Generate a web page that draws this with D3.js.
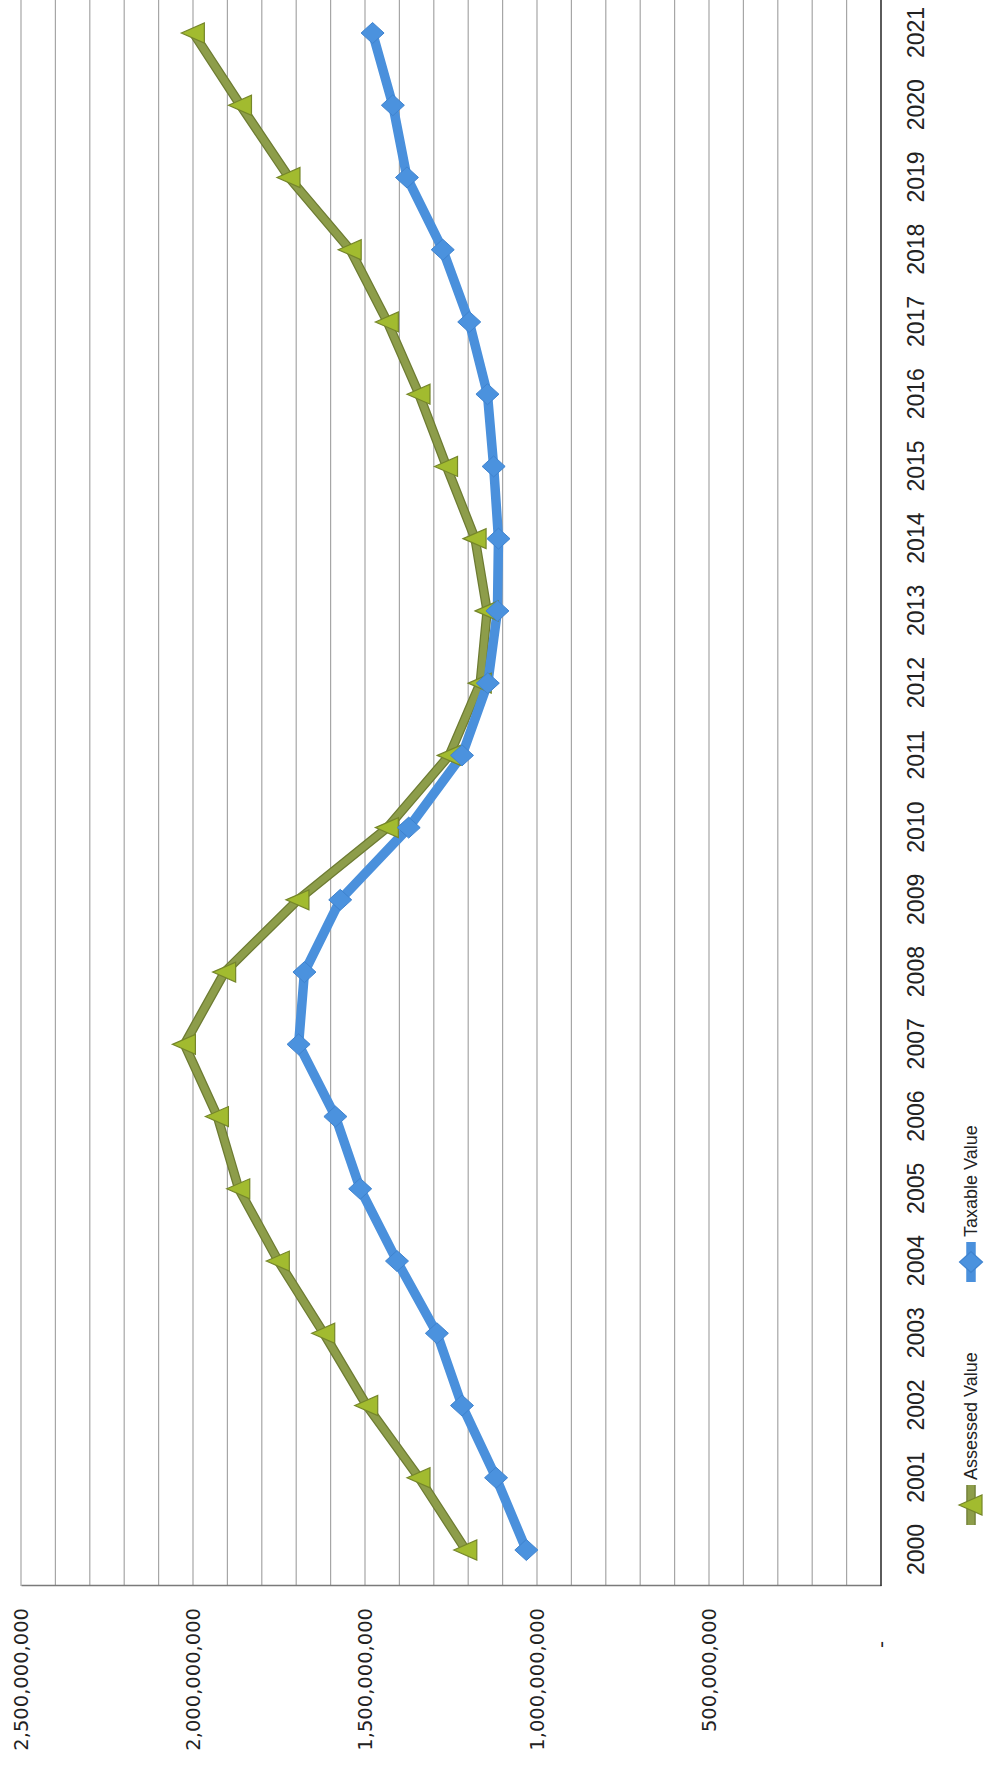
<!DOCTYPE html>
<html>
<head>
<meta charset="utf-8">
<script src="https://cdn.jsdelivr.net/npm/d3@7"></script>
<style>
  html, body { margin: 0; padding: 0; background: #ffffff; }
  svg { display: block; }
</style>
</head>
<body>
<svg id="chart" width="988" height="1790"></svg>
<script>
// ---- Data ----
const years = ["2000","2001","2002","2003","2004","2005","2006","2007","2008","2009","2010",
               "2011","2012","2013","2014","2015","2016","2017","2018","2019","2020","2021"];
const assessedValue = [1207e6, 1343e6, 1495e6, 1620e6, 1752e6, 1867e6, 1929e6, 2025e6, 1908e6, 1695e6, 1435e6,
                       1255e6, 1165e6, 1145e6, 1180e6, 1263e6, 1343e6, 1435e6, 1543e6, 1721e6, 1862e6, 1999e6];
const taxableValue  = [1031e6, 1119e6, 1218e6, 1291e6, 1407e6, 1514e6, 1586e6, 1693e6, 1676e6, 1572e6, 1373e6,
                       1218e6, 1143e6, 1115e6, 1112e6, 1126e6, 1144e6, 1197e6, 1274e6, 1378e6, 1419e6, 1478e6];
const valueTicks = [0, 500e6, 1000e6, 1500e6, 2000e6, 2500e6];
const seriesNames = ["Assessed Value", "Taxable Value"];

// ---- Layout (chart drawn landscape, then rotated -90deg onto the portrait page) ----
const W = 1790, H = 988;
const plotLeft = 204, plotRight = 1800;
const svg = d3.select("#chart");
const g = svg.append("g").attr("transform", `translate(0,${W}) rotate(-90)`);

const x = d3.scalePoint().domain(years).range([240, 1757]);
const y = d3.scaleLinear().domain([0, 2500e6]).range([881, 21]);

// gridlines every 100M
const gridVals = d3.range(1, 26).map(i => i * 100e6);
g.append("g").selectAll("line").data(gridVals).join("line")
  .attr("x1", plotLeft).attr("x2", plotRight)
  .attr("y1", d => y(d)).attr("y2", d => y(d))
  .attr("stroke", "#a6a6a6").attr("stroke-width", 1.2);

// value axis (left in landscape -> bottom on page)
const yAxis = d3.axisLeft(y).tickValues(valueTicks).tickSize(0).tickPadding(22)
  .tickFormat(d => d === 0 ? "-" : d3.format(",")(d));
const yg = g.append("g").attr("transform", `translate(${plotLeft},0)`).call(yAxis);
yg.select(".domain").attr("stroke", "#7a7a7a").attr("stroke-width", 1.6);
yg.selectAll("text")
  .attr("font-family", "'DejaVu Sans', Verdana, sans-serif")
  .attr("font-size", 19.5).attr("fill", "#222")
  .attr("x", d => d === 0 ? -55 : -22);

// category axis (bottom in landscape -> right on page)
const xAxis = d3.axisBottom(x).tickSize(0);
const xg = g.append("g").attr("transform", `translate(0,${y(0)})`).call(xAxis);
xg.select(".domain").remove();
g.append("line").attr("x1", plotLeft).attr("x2", plotRight)
  .attr("y1", y(0)).attr("y2", y(0))
  .attr("stroke", "#333").attr("stroke-width", 1.6);
xg.selectAll("text")
  .attr("font-family", "'Liberation Sans', Arial, sans-serif")
  .attr("font-size", 23).attr("fill", "#222")
  .attr("y", 35).attr("dy", "0.35em");

// ---- Series ----
const line = d3.line().x((d, i) => x(years[i])).y(d => y(d));

const triangle = "M0,-12 L10,11 L-10,11 Z";
const diamond = "M-10.5,0 L0,-11.5 L10.5,0 L0,11.5 Z";

// Assessed Value
g.append("path").datum(assessedValue).attr("d", line)
  .attr("fill", "none").attr("stroke", "#6d7b32").attr("stroke-width", 9.5)
  .attr("stroke-linejoin", "round");
g.append("path").datum(assessedValue).attr("d", line)
  .attr("fill", "none").attr("stroke", "#8d9d4a").attr("stroke-width", 7)
  .attr("stroke-linejoin", "round");

// Taxable Value
g.append("path").datum(taxableValue).attr("d", line)
  .attr("fill", "none").attr("stroke", "#4a90dc").attr("stroke-width", 9.5)
  .attr("stroke-linejoin", "round");

g.append("g").selectAll("path").data(assessedValue).join("path")
  .attr("transform", (d, i) => `translate(${x(years[i])},${y(d)})`)
  .attr("d", triangle).attr("fill", "#a2bb2f").attr("stroke", "#75862a").attr("stroke-width", 1.2);

g.append("g").selectAll("path").data(taxableValue).join("path")
  .attr("transform", (d, i) => `translate(${x(years[i])},${y(d)})`)
  .attr("d", diamond).attr("fill", "#4b92de").attr("stroke", "#3f83cf").attr("stroke-width", 1);

// ---- Legend ----
const legendY = 971;
const legend = g.append("g");
const legendItems = [
  { name: seriesNames[0], cx: 285, color: "#8d9d4a", edge: "#6d7b32", marker: triangle, fill: "#a2bb2f", mstroke: "#75862a" },
  { name: seriesNames[1], cx: 528, color: "#4a90dc", edge: "#4a90dc", marker: diamond, fill: "#4b92de", mstroke: "#3f83cf" }
];
const li = legend.selectAll("g").data(legendItems).join("g")
  .attr("transform", d => `translate(${d.cx},${legendY})`);
li.append("line").attr("x1", -20).attr("x2", 20).attr("y1", 0).attr("y2", 0)
  .attr("stroke", d => d.edge).attr("stroke-width", 9.5);
li.append("line").attr("x1", -20).attr("x2", 20).attr("y1", 0).attr("y2", 0)
  .attr("stroke", d => d.color).attr("stroke-width", 7);
li.append("path").attr("d", d => d.marker).attr("fill", d => d.fill)
  .attr("stroke", d => d.mstroke).attr("stroke-width", 1.2);
li.append("text").attr("x", 25).attr("y", 0).attr("dy", "0.35em")
  .attr("font-family", "'Liberation Sans', Arial, sans-serif")
  .attr("font-size", 18).attr("fill", "#222")
  .text(d => d.name);
</script>
</body>
</html>
